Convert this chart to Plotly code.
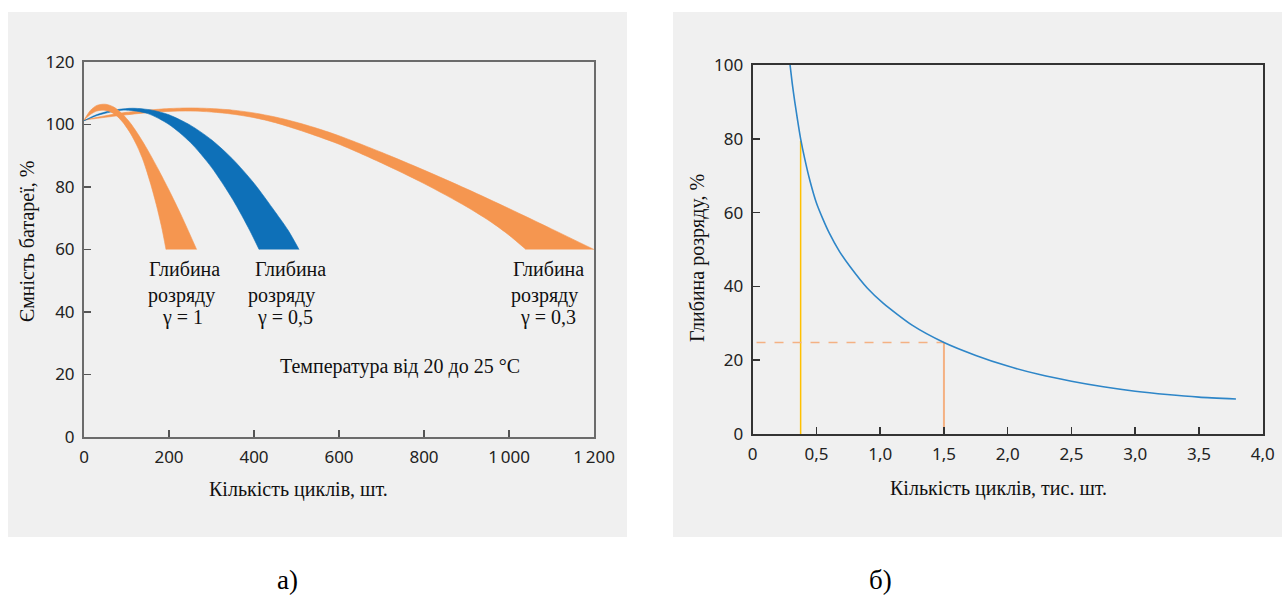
import plotly.graph_objects as go

# ---------------- data ----------------
# Panel a) capacity bands, cycles (pcs) vs capacity (%)
g1_outer_x = [0, 15, 30, 50, 70, 90, 110, 130, 150, 175, 200, 230, 265]
g1_outer_y = [101.4, 104.5, 106.1, 106.5, 105.6, 103.4, 100.3, 96.3, 91.8, 85.6, 79.0, 70.6, 60.0]
g1_inner_x = [0, 15, 30, 45, 60, 75, 92, 110, 125, 140, 157, 170, 182, 193]
g1_inner_y = [101.4, 103.2, 104.3, 104.6, 104.2, 103.0, 100.6, 97.0, 93.1, 88.2, 80.9, 74.4, 67.6, 60.0]

g05_outer_x = [0, 25, 50, 80, 115, 160, 200, 250, 300, 350, 400, 450, 480, 506]
g05_outer_y = [101.2, 102.9, 104.0, 104.8, 105.2, 104.6, 103.1, 99.8, 95.1, 88.9, 81.2, 72.0, 66.2, 60.0]
g05_inner_x = [0, 25, 50, 75, 100, 150, 200, 250, 300, 350, 390, 412]
g05_inner_y = [101.2, 102.6, 103.6, 104.3, 104.6, 103.5, 100.0, 94.3, 86.3, 76.0, 66.1, 60.0]

g03_outer_x = [0, 50, 100, 150, 200, 250, 300, 350, 400, 450, 500, 550, 600, 700, 800, 900, 1000, 1100, 1200]
g03_outer_y = [101.4, 102.8, 103.9, 104.6, 105.1, 105.3, 105.1, 104.6, 103.7, 102.4, 100.7, 98.7, 96.4, 91.1, 85.4, 79.4, 73.1, 66.6, 60.0]
g03_inner_x = [0, 50, 100, 150, 200, 250, 300, 350, 400, 450, 500, 550, 600, 700, 800, 900, 960, 1000, 1040]
g03_inner_y = [101.4, 102.3, 103.1, 103.8, 104.2, 104.3, 104.0, 103.3, 102.2, 100.6, 98.5, 96.2, 93.7, 87.7, 81.1, 73.7, 68.6, 64.6, 60.0]

x1_ticks = [0, 200, 400, 600, 800, 1000, 1200]
x1_labels = ["0", "200", "400", "600", "800", "1\u2009000", "1\u2009200"]
y1_ticks = [0, 20, 40, 60, 80, 100, 120]

# Panel b) depth of discharge vs cycles (thousand pcs)
dod_x = [0.293, 0.31, 0.33, 0.35, 0.376, 0.41, 0.45, 0.5, 0.55, 0.6, 0.68, 0.763, 0.9, 1.025,
         1.25, 1.5, 1.75, 2.0, 2.25, 2.5, 2.75, 3.0, 3.25, 3.5, 3.79]
dod_y = [100, 95, 90, 85.5, 80, 74.3, 68.5, 62.6, 58.3, 54.5, 49.5, 45.4, 39.5, 35.4,
         29.5, 24.8, 21.3, 18.4, 16.1, 14.3, 12.8, 11.6, 10.7, 10.0, 9.5]

yellow_x = [0.376, 0.376]
yellow_y = [0, 79.5]
orange_v_x = [1.5, 1.5]
orange_v_y = [0, 24.8]
orange_h_x = [0.03, 1.5]
orange_h_y = [24.8, 24.8]

x2_ticks = [0, 0.5, 1.0, 1.5, 2.0, 2.5, 3.0, 3.5, 4.0]
x2_labels = ["0", "0,5", "1,0", "1,5", "2,0", "2,5", "3,0", "3,5", "4,0"]
y2_ticks = [0, 20, 40, 60, 80, 100]

# ---------------- styling ----------------
W, H = 1282, 598
ORANGE = "#F59650"
BLUE = "#0E70B8"
PANEL = "#F0F0F0"
SERIF = "Liberation Serif, Times New Roman, serif"
SANS = "Noto Sans, DejaVu Sans, sans-serif"


def px(xp):
    return xp / W


def py(yp):
    return 1 - yp / H


fig = go.Figure()


def band(ox, oy, ix, iy, color):
    fig.add_trace(go.Scatter(
        x=ix, y=iy, mode="lines",
        line=dict(color=color, width=0.6, shape="spline", smoothing=0.8),
        xaxis="x", yaxis="y", hoverinfo="skip", showlegend=False))
    fig.add_trace(go.Scatter(
        x=ox, y=oy, mode="lines", fill="tonexty", fillcolor=color,
        line=dict(color=color, width=0.6, shape="spline", smoothing=0.8),
        xaxis="x", yaxis="y", hoverinfo="skip", showlegend=False))


band(g03_outer_x, g03_outer_y, g03_inner_x, g03_inner_y, ORANGE)
band(g05_outer_x, g05_outer_y, g05_inner_x, g05_inner_y, BLUE)
band(g1_outer_x, g1_outer_y, g1_inner_x, g1_inner_y, ORANGE)

fig.add_trace(go.Scatter(x=yellow_x, y=yellow_y, mode="lines",
                         line=dict(color="#FFC000", width=1.5),
                         xaxis="x2", yaxis="y2", hoverinfo="skip", showlegend=False))
fig.add_trace(go.Scatter(x=orange_v_x, y=orange_v_y, mode="lines",
                         line=dict(color="#F4B183", width=2),
                         xaxis="x2", yaxis="y2", hoverinfo="skip", showlegend=False))
fig.add_trace(go.Scatter(x=orange_h_x, y=orange_h_y, mode="lines",
                         line=dict(color="#F4B183", width=1.4, dash="dash"),
                         xaxis="x2", yaxis="y2", hoverinfo="skip", showlegend=False))
fig.add_trace(go.Scatter(x=dod_x, y=dod_y, mode="lines",
                         line=dict(color="#2E86C8", width=1.6, shape="spline", smoothing=0.6),
                         xaxis="x2", yaxis="y2", hoverinfo="skip", showlegend=False))

axis_common = dict(showgrid=False, zeroline=False, showline=True, mirror=True,
                   ticks="inside", ticklen=7, tickwidth=1.5, automargin=False,
                   tickfont=dict(family=SANS, size=17, color="#222222"),
                   ticklabelstandoff=4, fixedrange=True)

fig.update_layout(
    width=W, height=H,
    margin=dict(l=0, r=0, t=0, b=0, autoexpand=False),
    paper_bgcolor="white", plot_bgcolor=PANEL,
    showlegend=False,
    xaxis=dict(domain=[px(84), px(594)], range=[0, 1200], tickvals=x1_ticks, ticktext=x1_labels,
               anchor="y", linecolor="#6b6b6b", linewidth=2, tickcolor="#555555", **axis_common),
    yaxis=dict(domain=[py(437), py(62)], range=[0, 120], tickvals=y1_ticks,
               anchor="x", linecolor="#6b6b6b", linewidth=2, tickcolor="#555555", **axis_common),
    xaxis2=dict(domain=[px(752.7), px(1262.7)], range=[0, 4], tickvals=x2_ticks, ticktext=x2_labels,
                anchor="y2", linecolor="#333333", linewidth=2, tickcolor="#333333", **axis_common),
    yaxis2=dict(domain=[py(434), py(65)], range=[0, 100], tickvals=y2_ticks,
                anchor="x2", linecolor="#333333", linewidth=2, tickcolor="#333333", **axis_common),
)

fig.add_shape(type="rect", xref="paper", yref="paper", x0=px(8), x1=px(627), y0=py(537), y1=py(12),
              fillcolor=PANEL, line=dict(width=0), layer="below")
fig.add_shape(type="rect", xref="paper", yref="paper", x0=px(673), x1=px(1282), y0=py(537), y1=py(12),
              fillcolor=PANEL, line=dict(width=0), layer="below")


def label(text, x, y, size=20, angle=0, color="#111111"):
    fig.add_annotation(text=text, x=px(x), y=py(y), xref="paper", yref="paper",
                       xanchor="center", yanchor="middle", showarrow=False, textangle=angle,
                       font=dict(family=SERIF, size=size, color=color))


# band labels
label("Глибина", 185, 269)
label("розряду", 181, 295)
label("γ = 1", 182, 317)
label("Глибина", 290, 269)
label("розряду", 281, 295)
label("γ = 0,5", 285, 317)
label("Глибина", 548, 269)
label("розряду", 544, 295)
label("γ = 0,3", 548, 317)
label("Температура від 20 до 25 °C", 400, 366)

# axis titles
label("Кількість циклів, шт.", 298, 489)
label("Ємність батареї, %", 28, 242, angle=-90)
label("Кількість циклів, тис. шт.", 998, 488)
label("Глибина розряду, %", 698, 258, angle=-90)

# panel captions
label("а)", 287, 580, size=27, color="#000000")
label("б)", 880, 580, size=27, color="#000000")

fig.write_html("out.html", config={"displayModeBar": False, "staticPlot": True},
               post_script="document.body.style.margin='0';document.body.style.overflow='hidden';")
